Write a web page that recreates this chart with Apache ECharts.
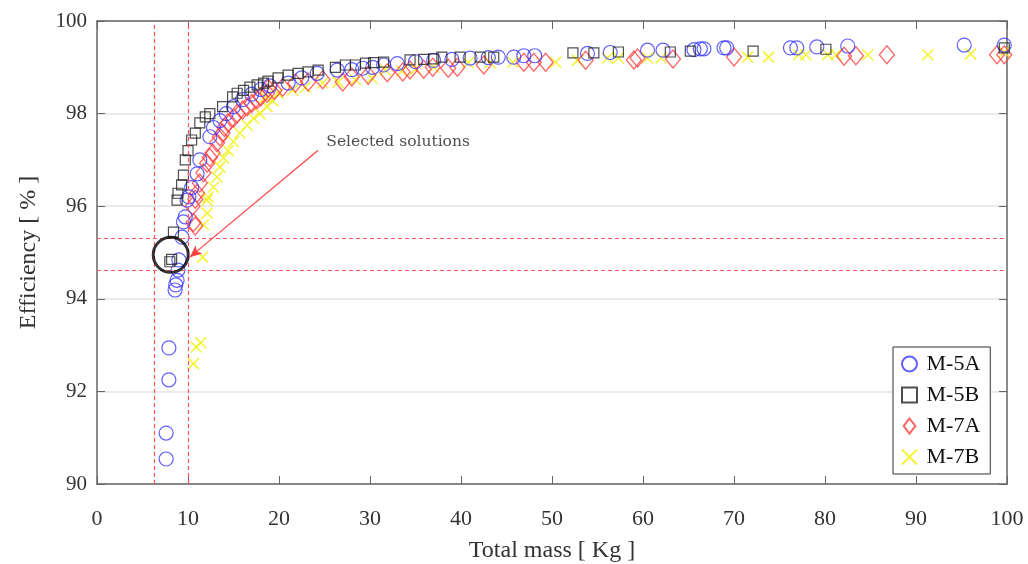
<!DOCTYPE html>
<html><head><meta charset="utf-8">
<script src="https://cdn.jsdelivr.net/npm/echarts@6/dist/echarts.min.js"></script>
<style>html,body{margin:0;padding:0;background:#fff}#c{width:1028px;height:564px}</style>
</head><body><div id="c"></div>
<script>
// ---- data ----
const m5aMass = [7.6,7.6,7.9,7.9,8.58,8.65,8.8,8.9,9.0,9.35,9.5,9.7,9.9,10.1,10.4,11.0,11.3,12.4,12.8,13.5,14.2,15.0,16,17,18,19,21,22.5,24.2,26.4,28.0,29.2,30.3,31.5,33,35,37,39,41,43,44.1,45.8,46.9,48.1,53.9,56.4,60.5,62.2,65.6,66.3,66.7,68.9,69.2,76.2,76.9,79.1,82.5,95.3,99.7];
const m5aEff  = [90.54,91.1,92.25,92.94,94.19,94.3,94.4,94.62,94.84,95.33,95.66,95.77,96.13,96.2,96.4,96.7,97.0,97.5,97.7,97.85,98.0,98.15,98.3,98.42,98.52,98.6,98.66,98.77,98.87,98.94,98.95,98.98,99.0,99.05,99.08,99.12,99.15,99.17,99.2,99.21,99.22,99.22,99.25,99.25,99.3,99.32,99.37,99.37,99.38,99.4,99.4,99.42,99.42,99.42,99.42,99.44,99.46,99.48,99.48];

const m5bMass = [8.0,8.2,8.4,8.8,8.9,9.3,9.5,9.7,10.0,10.4,10.8,11.3,11.9,12.4,13.8,14.9,15.4,16.1,16.8,17.6,18.3,18.8,19.9,21.0,22.1,23.2,24.3,26.2,27.3,28.4,29.5,30.4,31.5,34.4,35.9,37,37.9,39.9,42.1,43.6,52.3,54.6,57.3,63.0,65.2,72.1,80.1,99.7];
const m5bEff  = [94.8,94.85,95.44,96.13,96.28,96.46,96.67,97.0,97.2,97.43,97.58,97.8,97.93,98.0,98.15,98.36,98.44,98.5,98.57,98.62,98.66,98.7,98.77,98.83,98.87,98.9,98.94,99.0,99.05,99.05,99.09,99.1,99.11,99.16,99.17,99.18,99.22,99.22,99.22,99.22,99.31,99.31,99.33,99.33,99.35,99.35,99.39,99.42];

const m7aMass = [10.6,10.8,10.5,10.8,11.0,11.3,11.7,12.1,12.4,12.7,13.2,13.5,13.8,14.0,14.4,15,15.4,16,16.5,17,17.6,18,18.7,18.8,19.5,20.4,21.8,23.2,24.8,27,28,29.8,31.9,33.6,34.4,35.9,36.9,38.6,39.6,42.5,46.9,48.0,49.3,53.7,59.0,59.4,63.3,70.0,82.1,83.4,86.8,98.9,99.7];
const m7aEff  = [95.65,95.57,96.0,96.15,96.28,96.5,96.72,96.93,97.05,97.15,97.37,97.5,97.58,97.7,97.8,97.9,98.0,98.08,98.15,98.22,98.3,98.36,98.44,98.55,98.5,98.57,98.66,98.68,98.73,98.68,98.79,98.83,98.88,98.9,98.94,98.96,99.0,98.98,99.0,99.05,99.11,99.11,99.11,99.15,99.16,99.2,99.18,99.22,99.24,99.25,99.27,99.27,99.27];

const m7bMass = [10.6,10.9,11.4,11.6,11.7,12.1,12.1,12.2,12.8,13.2,13.5,13.9,14.4,15.0,15.7,16.5,17.2,17.9,18.7,18.5,19.3,19.9,21.5,22.9,24.8,26.5,28.4,30.2,31.7,33.5,35,37,40.8,43.2,45.7,50.4,52.8,56.1,57.3,60.5,62,71.5,73.8,77.1,77.9,80.3,81.2,84.7,91.3,96.0,99.7];
const m7bEff  = [92.6,92.96,93.05,94.9,95.6,95.85,96.13,96.2,96.41,96.63,96.85,97.04,97.2,97.39,97.58,97.75,97.9,98.0,98.15,98.36,98.28,98.44,98.51,98.57,98.66,98.68,98.73,98.77,98.94,98.92,98.96,99.0,99.1,99.1,99.11,99.11,99.15,99.2,99.2,99.2,99.2,99.22,99.22,99.27,99.27,99.27,99.27,99.27,99.27,99.29,99.33];

const seriesNames = ['M-5A','M-5B','M-7A','M-7B'];
const xLimits = [0, 100];
const yLimits = [90, 100];
const massLimits = [6.3, 10.0];       // vertical dashed lines
const effLimits = [95.31, 94.62];     // horizontal dashed lines
const selected = [8.1, 94.95];        // black circle
const arrowFrom = [24.3, 97.21];
const arrowTo = [10.2, 94.9];
const labelAt = [25.2, 97.38];
const labelText = 'Selected solutions';

const zip = (a, b) => a.map((v, i) => [v, b[i]]);
const FONT = 'Liberation Serif';
const xPath = 'path://M0,0L10,10M10,0L0,10';
const sqPath = 'path://M0,0L10,0L10,10L0,10Z';
const dmPath = 'path://M7,0L14,9L7,18L0,9Z';
const legendIcons = ['circle', sqPath, dmPath, xPath];

const mk = (name, data, symbol, size, color, z, bw) => ({
  name, type: 'scatter', data, symbol, symbolSize: size, z, symbolKeepAspect: false,
  itemStyle: { color: 'rgba(0,0,0,0)', borderColor: color, borderWidth: bw },
  emphasis: { disabled: true }, silent: true
});

const chart = echarts.init(document.getElementById('c'), null, { renderer: 'canvas' });
const dash = () => ({ color: '#ff5555', type: [4, 3], width: 1.2, opacity: 1 });

chart.setOption({
  animation: false,
  backgroundColor: '#fff',
  grid: { left: 97, right: 21, top: 21, bottom: 80, outerBoundsMode: 'none', containLabel: false },
  legend: {
    data: seriesNames.map((n, i) => ({ name: n, icon: legendIcons[i] })),
    orient: 'vertical', left: 893, top: 347,
    backgroundColor: '#fff', borderColor: '#333', borderWidth: 1,
    padding: [6, 10, 6, 8], itemGap: 9, itemWidth: 24, itemHeight: 15, symbolKeepAspect: true,
    textStyle: { fontFamily: FONT, fontSize: 22, color: '#111' },
    selectedMode: false
  },
  xAxis: [{
    type: 'value', min: xLimits[0], max: xLimits[1], interval: 10,
    name: 'Total mass [ Kg ]', nameLocation: 'middle', nameGap: 55,
    nameTextStyle: { fontFamily: FONT, fontSize: 24, color: '#333' },
    axisLine: { onZero: false, lineStyle: { color: '#666', width: 1.5 } },
    axisTick: { inside: true, length: 8, lineStyle: { color: '#666' } },
    axisLabel: { fontFamily: FONT, fontSize: 22, color: '#333', margin: 24 },
    splitLine: { show: false }
  }, {
    type: 'value', position: 'top', min: xLimits[0], max: xLimits[1], interval: 10,
    axisLine: { onZero: false, lineStyle: { color: '#666', width: 1.5 } },
    axisTick: { inside: true, length: 8, lineStyle: { color: '#666' } },
    axisLabel: { show: false }, splitLine: { show: false }
  }],
  yAxis: [{
    type: 'value', min: yLimits[0], max: yLimits[1], interval: 2,
    name: 'Efficiency [ % ]', nameLocation: 'middle', nameGap: 56,
    nameTextStyle: { fontFamily: FONT, fontSize: 24, color: '#333' },
    axisLine: { show: true, onZero: false, lineStyle: { color: '#666', width: 1.5 } },
    axisTick: { show: true, inside: true, length: 8, lineStyle: { color: '#666' } },
    axisLabel: { fontFamily: FONT, fontSize: 21, color: '#333', margin: 10 },
    splitLine: { show: true, lineStyle: { color: '#e3e3e3', width: 1.5 } }
  }, {
    type: 'value', position: 'right', min: yLimits[0], max: yLimits[1], interval: 2,
    axisLine: { show: true, onZero: false, lineStyle: { color: '#666', width: 1.5 } },
    axisTick: { show: true, inside: true, length: 8, lineStyle: { color: '#666' } },
    axisLabel: { show: false }, splitLine: { show: false }
  }],
  series: [
    mk('M-5A', zip(m5aMass, m5aEff), 'circle', 14, '#3a3aff', 3, 1.2),
    mk('M-5B', zip(m5bMass, m5bEff), sqPath, 10, '#222222', 4, 1.2),
    mk('M-7A', zip(m7aMass, m7aEff), dmPath, [15, 18], '#ff3b3b', 2, 1.3),
    mk('M-7B', zip(m7bMass, m7bEff), xPath, 11, '#f0f000', 1, 1.5),
    {
      name: 'annot', type: 'scatter', z: 10, silent: true,
      data: [{ value: selected, symbol: 'circle', symbolSize: 35,
               itemStyle: { color: 'rgba(0,0,0,0)', borderColor: '#000', borderWidth: 3 } },
             { value: labelAt, symbol: 'circle', symbolSize: 0,
               label: { show: true, position: 'right', distance: 0, formatter: labelText,
                        fontFamily: 'DejaVu Serif', fontSize: 15.5, color: '#222' } }],
      markLine: {
        silent: true, symbol: ['none', 'none'], label: { show: false },
        emphasis: { disabled: true },
        lineStyle: dash(),
        data: [
          { xAxis: massLimits[0], lineStyle: dash() }, { xAxis: massLimits[1], lineStyle: dash() },
          { yAxis: effLimits[0], lineStyle: dash() }, { yAxis: effLimits[1], lineStyle: dash() },
          [{ coord: arrowFrom, symbol: 'none', lineStyle: { type: 'solid', color: '#ff4040', width: 1.2 } },
           { coord: arrowTo, symbol: 'arrow', symbolSize: [8, 12] }]
        ]
      }
    }
  ]
});
</script></body></html>
